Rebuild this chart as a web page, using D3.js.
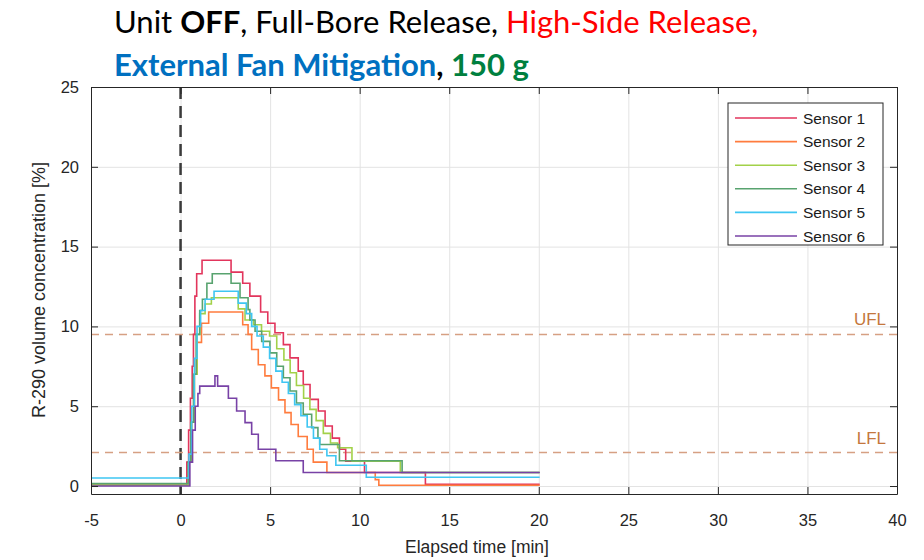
<!DOCTYPE html>
<html>
<head>
<meta charset="utf-8">
<script src="https://cdn.jsdelivr.net/npm/d3@7"></script>
<style>
  body { margin: 0; background: #fff; }
  svg { display: block; }
  .tick text { font-family: "Liberation Sans", Arial, sans-serif; fill: #262626; }
</style>
</head>
<body>
<svg id="chart" width="924" height="560"></svg>
<script>
// data, [elapsed min, % vol]; drawn as step-after
const sensorNames = ['Sensor 1', 'Sensor 2', 'Sensor 3', 'Sensor 4', 'Sensor 5', 'Sensor 6'];
const sensorColors = ['#e2355c', '#ff7c3e', '#a2d149', '#58a36f', '#3fc6f2', '#7842a6'];

const sensor1 = [[-5, 0.05], [0.25, 0.05], [0.35, 1.5], [0.45, 3.5], [0.55, 5.5], [0.65, 7.5], [0.72, 9.5],
  [0.8, 11.9], [0.9, 13.3], [1.2, 14.15], [2.82, 13.4], [3.47, 12.7], [3.87, 11.9], [4.47, 10.9], [4.87, 10.2],
  [5.27, 9.6], [5.74, 8.86], [6.11, 8.03], [6.57, 7.2], [6.85, 6.36], [7.23, 5.43], [7.69, 4.7], [8.07, 3.76],
  [8.47, 3.0], [8.87, 2.3], [9.22, 1.55], [10.27, 0.85], [13.67, 0.1], [20.05, 0.1]];
const sensor2 = [[-5, 0.05], [0.32, 0.05], [0.47, 1.5], [0.62, 4], [0.77, 7], [0.92, 9], [1.17, 10.2], [1.57, 10.9],
  [3.47, 10.1], [3.77, 9.5], [3.97, 8.55], [4.34, 7.6], [4.71, 6.9], [5.07, 6.15], [5.47, 5.4], [5.83, 4.6],
  [6.17, 3.85], [6.57, 3.1], [7.07, 2.3], [7.41, 1.5], [8.17, 0.85], [10.87, 0.4], [11.07, 0.05], [20.05, 0.05]];
const sensor3 = [[-5, 0.05], [0.32, 0.05], [0.47, 1.5], [0.62, 4], [0.77, 7], [0.92, 9.5], [1.07, 10.8], [1.37, 11.4],
  [1.72, 11.8], [3.22, 11.1], [3.6, 10.4], [4.07, 10.1], [4.52, 9.7], [4.97, 9.4], [5.37, 8.6], [5.77, 7.9],
  [6.12, 7.1], [6.47, 6.3], [6.87, 5.5], [7.22, 4.8], [7.57, 4.1], [7.97, 3.3], [8.37, 2.7], [8.77, 2.4],
  [9.57, 1.55], [12.27, 0.85], [20.05, 0.85]];
const sensor4 = [[-5, 0.15], [0.27, 0.15], [0.42, 1.5], [0.57, 4], [0.72, 7], [0.87, 9.5], [1.07, 11], [1.22, 11.7],
  [1.47, 12.7], [1.77, 13.3], [2.82, 12.7], [3.32, 11.8], [3.77, 11.05], [3.87, 10.4], [4.16, 9.7], [4.53, 9.06],
  [4.99, 8.34], [5.37, 7.5], [5.74, 6.78], [6.11, 5.95], [6.47, 5.2], [6.85, 4.5], [7.32, 3.66], [7.67, 3.0],
  [7.77, 2.6], [8.87, 1.58], [12.37, 0.85], [20.05, 0.85]];
const sensor5 = [[-5, 0.5], [0.32, 0.5], [0.47, 2], [0.62, 5], [0.77, 8], [0.92, 10], [1.12, 11], [1.37, 11.7],
  [1.87, 12.2], [3.22, 11.46], [3.67, 10.8], [3.97, 10.0], [4.27, 9.4], [4.62, 8.7], [4.97, 8.0], [5.32, 7.2],
  [5.67, 6.5], [6.02, 5.8], [6.37, 5.1], [6.72, 4.4], [7.07, 3.7], [7.42, 3.0], [7.77, 2.3], [8.17, 1.9],
  [8.67, 1.3], [10.37, 0.55], [20.05, 0.55]];
const sensor6 = [[-5, 0], [0.37, 0], [0.52, 1.5], [0.67, 3.5], [0.82, 5], [0.97, 5.8], [1.07, 6.26], [1.92, 6.9],
  [2.07, 6.26], [2.67, 5.5], [3.13, 4.7], [3.6, 3.97], [3.97, 3.24], [4.34, 2.3], [5.32, 1.58], [6.85, 0.85],
  [20.05, 0.85]];
const sensorData = [sensor1, sensor2, sensor3, sensor4, sensor5, sensor6];

const xTicks = [-5, 0, 5, 10, 15, 20, 25, 30, 35, 40];
const yTicks = [0, 5, 10, 15, 20, 25];
const limits = [{ name: 'UFL', value: 9.5 }, { name: 'LFL', value: 2.1 }];

const svg = d3.select('#chart');
const plotL = 91, plotR = 897, plotT = 87, plotB = 494;
const x = d3.scaleLinear().domain([-5, 40]).range([plotL, plotR]);
const y = d3.scaleLinear().domain([-0.5, 25]).range([plotB, plotT]);

// title
const title = svg.append('g')
  .attr('font-family', 'Lato, "Open Sans", sans-serif')
  .attr('font-size', 31);
const t1 = title.append('text').attr('x', 114).attr('y', 33);
t1.append('tspan').attr('fill', '#000').text('Unit ');
t1.append('tspan').attr('fill', '#000').attr('font-weight', 'bold').text('OFF');
t1.append('tspan').attr('fill', '#000').text(', Full-Bore Release, ');
t1.append('tspan').attr('fill', '#ff0000').text('High-Side Release,');
const t2 = title.append('text').attr('x', 114).attr('y', 76).attr('font-weight', 'bold');
t2.append('tspan').attr('fill', '#0070c0').text('External Fan Mitigation');
t2.append('tspan').attr('fill', '#000').text(', ');
t2.append('tspan').attr('fill', '#00803f').text('150 g');

// grid
svg.append('g')
  .attr('transform', `translate(0,${plotB})`)
  .call(d3.axisBottom(x).tickValues(xTicks).tickSize(-(plotB - plotT)).tickFormat(''))
  .call(g => g.select('.domain').remove())
  .selectAll('line').attr('stroke', '#e3e3e3');
svg.append('g')
  .attr('transform', `translate(${plotL},0)`)
  .call(d3.axisLeft(y).tickValues(yTicks).tickSize(-(plotR - plotL)).tickFormat(''))
  .call(g => g.select('.domain').remove())
  .selectAll('line').attr('stroke', '#e3e3e3');

// release start marker
svg.append('line')
  .attr('x1', x(0)).attr('x2', x(0)).attr('y1', plotT).attr('y2', plotB)
  .attr('stroke', '#3a3a3a').attr('stroke-width', 2.5).attr('stroke-dasharray', '12,7');

// flammability limits
svg.selectAll('line.limit').data(limits).join('line')
  .attr('class', 'limit')
  .attr('x1', plotL).attr('x2', plotR)
  .attr('y1', d => y(d.value)).attr('y2', d => y(d.value))
  .attr('stroke', '#d6a083').attr('stroke-width', 1.5).attr('stroke-dasharray', '8,6');
svg.selectAll('text.limit').data(limits).join('text')
  .attr('class', 'limit')
  .attr('x', 886).attr('y', d => y(d.value) - 9)
  .attr('text-anchor', 'end')
  .attr('font-family', '"Liberation Sans", Arial, sans-serif')
  .attr('font-size', 17)
  .attr('fill', '#c4773d')
  .text(d => d.name);

// sensor traces
const line = d3.line().x(d => x(d[0])).y(d => y(d[1])).curve(d3.curveStepAfter);
svg.append('g').selectAll('path').data(sensorData).join('path')
  .attr('d', line)
  .attr('fill', 'none')
  .attr('stroke', (d, i) => sensorColors[i])
  .attr('stroke-width', 1.6);

// axes, ticks inward on all sides
const axisGroups = [];
axisGroups.push(svg.append('g')
  .attr('transform', `translate(0,${plotB})`)
  .call(d3.axisBottom(x).tickValues(xTicks).tickFormat(d => String(d))
    .tickSizeInner(-7).tickSizeOuter(0).tickPadding(20)));
axisGroups.push(svg.append('g')
  .attr('transform', `translate(${plotL},0)`)
  .call(d3.axisLeft(y).tickValues(yTicks).tickFormat(d => String(d))
    .tickSizeInner(-7).tickSizeOuter(0).tickPadding(12)));
axisGroups.push(svg.append('g')
  .attr('transform', `translate(0,${plotT})`)
  .call(d3.axisTop(x).tickValues(xTicks).tickSizeInner(-7).tickSizeOuter(0).tickFormat('')));
axisGroups.push(svg.append('g')
  .attr('transform', `translate(${plotR},0)`)
  .call(d3.axisRight(y).tickValues(yTicks).tickSizeInner(-7).tickSizeOuter(0).tickFormat('')));
axisGroups.forEach(g => {
  g.selectAll('.domain, .tick line').attr('stroke', '#262626');
  g.selectAll('text').attr('font-size', 16.5);
});

// axis titles
svg.append('text')
  .attr('x', 477).attr('y', 553)
  .attr('text-anchor', 'middle')
  .attr('font-family', '"Liberation Sans", Arial, sans-serif')
  .attr('font-size', 17.5).attr('fill', '#262626')
  .text('Elapsed time [min]');
svg.append('text')
  .attr('transform', `translate(45,290) rotate(-90)`)
  .attr('text-anchor', 'middle')
  .attr('font-family', '"Liberation Sans", Arial, sans-serif')
  .attr('font-size', 18).attr('fill', '#262626')
  .text('R-290 volume concentration [%]');

// legend
const legend = svg.append('g').attr('transform', 'translate(728,103)');
legend.append('rect')
  .attr('width', 155).attr('height', 142)
  .attr('fill', '#fff').attr('stroke', '#262626').attr('stroke-width', 1);
const rows = legend.selectAll('g.row').data(sensorNames).join('g')
  .attr('class', 'row')
  .attr('transform', (d, i) => `translate(0,${15 + i * 23.6})`);
rows.append('line')
  .attr('x1', 7).attr('x2', 69)
  .attr('stroke', (d, i) => sensorColors[i]).attr('stroke-width', 1.6);
rows.append('text')
  .attr('x', 75).attr('dy', '0.36em')
  .attr('font-family', '"Liberation Sans", Arial, sans-serif')
  .attr('font-size', 15.5).attr('fill', '#1a1a1a')
  .text(d => d);
</script>
</body>
</html>
